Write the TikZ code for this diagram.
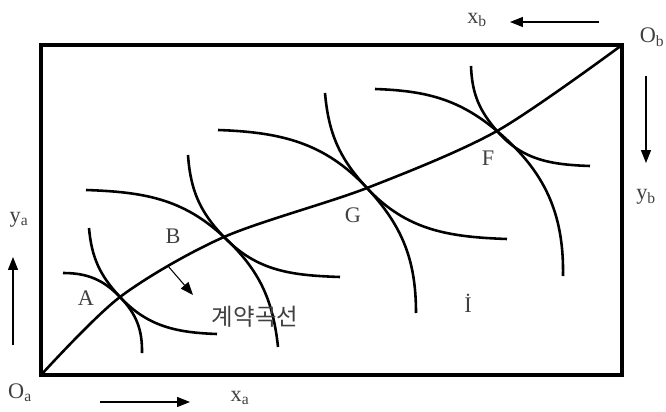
\documentclass[tikz,border=0pt]{standalone}
\usepackage{fontspec}
\setmainfont{Liberation Serif}
\newfontfamily\korfont{Noto Sans CJK KR}
\usetikzlibrary{arrows.meta}

\begin{document}
\begin{tikzpicture}[
    x=0.03cm, y=0.03cm,
    frame/.style={line width=3pt},
    curve/.style={line width=2.2pt},
    arrow/.style={-{Triangle[length=11pt, width=8.5pt]}, line width=0.9pt},
    lbl/.style={font=\fontsize{19}{22}\selectfont, text=black!75, inner sep=0pt}
]
    \useasboundingbox (0,0) rectangle (666,411);

    % Box corners
    \coordinate (Oa) at (41,36);
    \coordinate (Ob) at (622,366);
    \draw[frame] (Oa) rectangle (Ob);

    % Points on the contract curve
    \coordinate (A) at (120,114);
    \coordinate (B) at (224,174);
    \coordinate (G) at (367,223);
    \coordinate (F) at (497,280);

    % Contract curve
    \draw[curve] plot[smooth] coordinates {(Oa) (A) (B) (G) (F) (Ob)};

    % Indifference curves of a
    \draw[curve] (89,183) to[out=-85, in=133] (A) to[out=-47, in=178] (217,77);
    \draw[curve] (188,256) to[out=-86, in=134] (B) to[out=-46, in=178] (340,134);
    \draw[curve] (325,318) to[out=-85, in=133] (G) to[out=-47, in=178] (507,172);
    \draw[curve] (471,345) to[out=-88, in=131] (F) to[out=-49, in=178] (590,245);

    % Indifference curves of b
    \draw[curve] (63,138) to[out=0, in=134] (A) to[out=-46, in=89] (142,58);
    \draw[curve] (86,221) to[out=-2, in=137] (B) to[out=-43, in=96] (278,64);
    \draw[curve] (218,281) to[out=-2, in=133] (G) to[out=-47, in=90] (416,98);
    \draw[curve] (375,322) to[out=-2, in=140] (F) to[out=-40, in=89] (563,135);

    % Labels
    \node[lbl] (Oalbl) at (20,18) {O\textsubscript{a}};
    \node[lbl] (Oblbl) at (652,374) {O\textsubscript{b}};
    \node[lbl] (xalbl) at (240,13) {x\textsubscript{a}};
    \node[lbl] (xblbl) at (477,391) {x\textsubscript{b}};
    \node[lbl] (yalbl) at (19,191) {y\textsubscript{a}};
    \node[lbl] (yblbl) at (646,214) {y\textsubscript{b}};
    \node[lbl] (Albl) at (86,113) {A};
    \node[lbl] (Blbl) at (173,175) {B};
    \node[lbl] (Glbl) at (353,196) {G};
    \node[lbl] (Flbl) at (488,253) {F};
    \node[lbl] (Ilbl) at (468,108) {İ};
    \node[lbl, font=\fontsize{20}{24}\selectfont\korfont] (cclbl) at (255,94) {계약곡선};

    % Axis arrows
    \draw[arrow] (100,9) -- (190,9);
    \draw[arrow] (13,66) -- (13,154);
    \draw[arrow] (599,389) -- (510,389);
    \draw[arrow] (646,335) -- (646,248);

    % Arrow off the contract curve
    \coordinate (ccfoot) at (168,145);
    \coordinate (cctip) at (193,116);
    \draw[arrow] (ccfoot) -- (cctip);

\end{tikzpicture}
\end{document}
